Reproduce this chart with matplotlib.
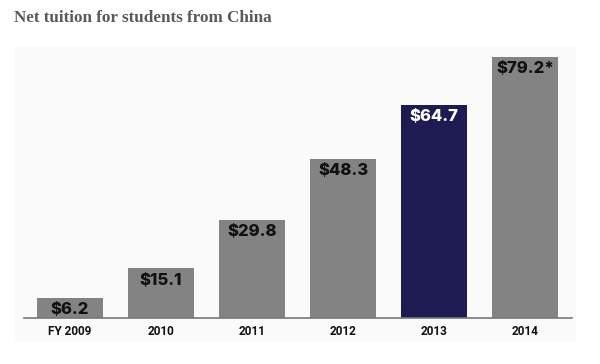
import matplotlib.pyplot as plt
from matplotlib.patches import Rectangle

# ------------- DATA -------------
YEARS = ["FY 2009", "2010", "2011", "2012", "2013", "2014"]
TUITION = [6.2, 15.1, 29.8, 48.3, 64.7, 79.2]
LABELS = ["$6.2", "$15.1", "$29.8", "$48.3", "$64.7", "$79.2*"]
HIGHLIGHT = "2013"
# --------------------------------

GRAY = "#838383"
NAVY = "#1d1b52"

fig = plt.figure(figsize=(6.0, 3.64), dpi=100)
fig.patch.set_facecolor("white")

# faint panel behind the chart
fig.add_artist(Rectangle((15 / 600, 22 / 364), 561 / 600, 295 / 364,
                         transform=fig.transFigure, facecolor="#fafafa",
                         edgecolor="none", zorder=-5))

fig.text(14 / 600, 1 - 18 / 364, "Net tuition for students from China",
         family="Liberation Serif", fontweight="bold", fontsize=12.3,
         color="#5a5a5a", va="center", ha="left")

ax = fig.add_axes([24 / 600, 46 / 364, 548 / 600, 288 / 364])
ax.set_facecolor("none")

x = range(len(YEARS))
colors = [NAVY if y == HIGHLIGHT else GRAY for y in YEARS]
bars = ax.bar(x, TUITION, width=0.725, color=colors, zorder=2)

for b, lab, yr in zip(bars, LABELS, YEARS):
    ax.text(b.get_x() + b.get_width() / 2, b.get_height() - 1.4, lab,
            ha="center", va="top", fontsize=12, fontweight="heavy",
            family="Inter",
            color="white" if yr == HIGHLIGHT else "#111111", zorder=3)

ax.set_xlim(-0.505, 5.516)
ax.set_ylim(0, 87.3)
ax.set_xticks(list(x))
ax.set_xticklabels(YEARS, fontsize=8.5, fontweight="bold", family="Roboto",
                   color="#111111")
ax.tick_params(axis="x", length=0, pad=5)
ax.set_yticks([])
for side in ["top", "right", "left"]:
    ax.spines[side].set_visible(False)
ax.spines["bottom"].set_color("#777777")
ax.spines["bottom"].set_linewidth(1.2)

fig.savefig("out.png", dpi=100)
